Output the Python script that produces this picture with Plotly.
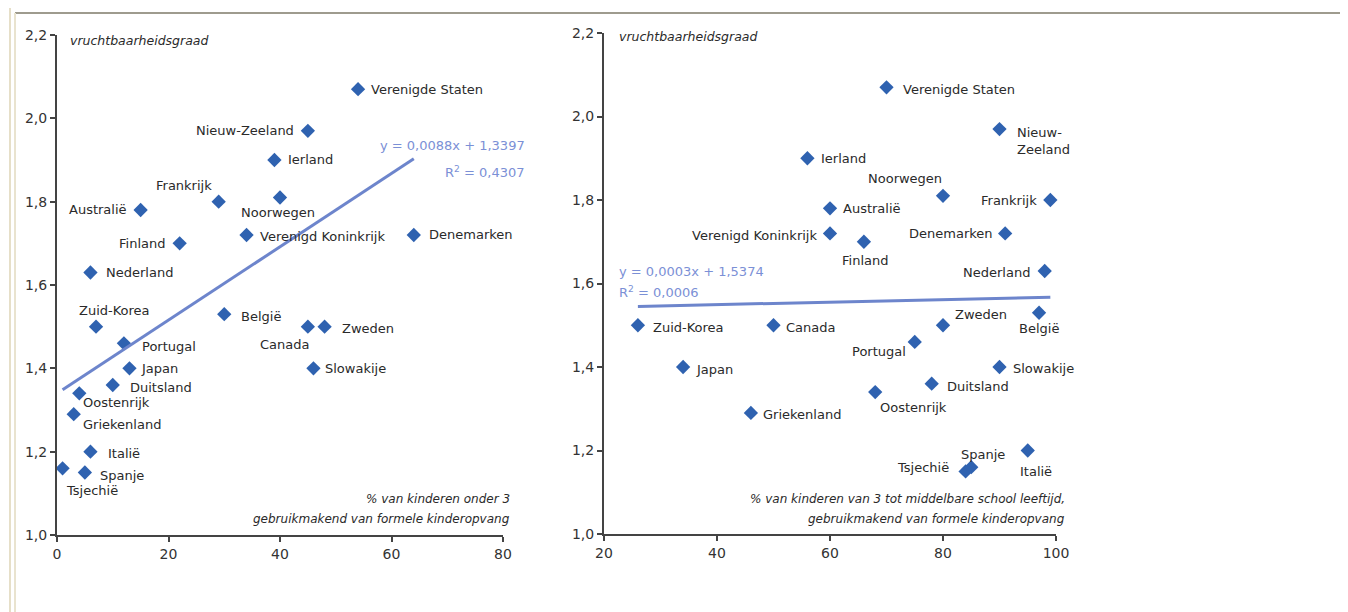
import plotly.graph_objects as go

# ---------------- data ----------------
countries = ["Verenigde Staten", "Nieuw-Zeeland", "Ierland", "Noorwegen", "Frankrijk",
             "Australië", "Denemarken", "Verenigd Koninkrijk", "Finland", "Nederland",
             "Zuid-Korea", "België", "Portugal", "Japan", "Duitsland", "Oostenrijk",
             "Griekenland", "Canada", "Zweden", "Slowakije", "Italië", "Spanje", "Tsjechië"]
fertility = [2.07, 1.97, 1.90, 1.81, 1.80, 1.78, 1.72, 1.72, 1.70, 1.63,
             1.50, 1.53, 1.46, 1.40, 1.36, 1.34, 1.29, 1.50, 1.50, 1.40, 1.20, 1.15, 1.16]
care_under3 = [54, 45, 39, 40, 29, 15, 64, 34, 22, 6,
               7, 30, 12, 13, 10, 4, 3, 45, 48, 46, 6, 5, 1]
care_3_school = [70, 90, 56, 80, 99, 60, 91, 60, 66, 98,
                 26, 97, 75, 34, 78, 68, 46, 50, 80, 90, 95, 84, 85]

trend_left = (0.0088, 1.3397, 0.4307)
trend_right = (0.0003, 1.5374, 0.0006)

y_ticks = [1.0, 1.2, 1.4, 1.6, 1.8, 2.0, 2.2]
x_ticks_left = [0, 20, 40, 60, 80]
x_ticks_right = [20, 40, 60, 80, 100]

y_title = "vruchtbaarheidsgraad"
x_title_left = ["% van kinderen onder 3", "gebruikmakend van formele kinderopvang"]
x_title_right = ["% van kinderen van 3 tot middelbare school leeftijd,",
                 "gebruikmakend van formele kinderopvang"]

# ---------------- styling / label placement ----------------
PAGE_W, PAGE_H = 1348, 612
OFF = 8                       # default body margin of the html page
W, H = PAGE_W - OFF, PAGE_H - OFF
FONT = "DejaVu Sans"
MARKER = "#2f62b0"
TREND = "#6d85cc"
TREND_TXT = "#7b90d6"
AXIS = "#444444"
TXT = "#2a2a2a"


def px(x):
    return (x - OFF) / W


def py(y):
    return 1 - (y - OFF) / H


# (anchor, dx, dy) offsets in screen pixels, dy positive = downwards
place_left = {
    "Verenigde Staten": ("left", 11, 0), "Nieuw-Zeeland": ("right", -12, 0),
    "Ierland": ("left", 12, 0), "Noorwegen": ("center", -2, 15),
    "Frankrijk": ("right", -5, -16), "Australië": ("right", -12, 0),
    "Denemarken": ("left", 13, 0), "Verenigd Koninkrijk": ("left", 11, 2),
    "Finland": ("right", -13, 0), "Nederland": ("left", 14, 0),
    "Zuid-Korea": ("center", 18, -16), "België": ("left", 15, 2),
    "Portugal": ("left", 16, 3), "Japan": ("left", 10, 0),
    "Duitsland": ("left", 15, 2), "Oostenrijk": ("left", 2, 9),
    "Griekenland": ("left", 7, 10), "Canada": ("right", 3, 18),
    "Zweden": ("left", 15, 2), "Slowakije": ("left", 10, 0),
    "Italië": ("left", 16, 2), "Spanje": ("left", 13, 3), "Tsjechië": ("left", 1, 22),
}
place_right = {
    "Verenigde Staten": ("left", 14, 2), "Nieuw-Zeeland": ("left", 15, 12),
    "Ierland": ("left", 12, 0), "Noorwegen": ("right", 1, -17),
    "Frankrijk": ("right", -11, 0), "Australië": ("left", 11, 0),
    "Denemarken": ("right", -10, 0), "Verenigd Koninkrijk": ("right", -11, 2),
    "Finland": ("center", 1, 19), "Nederland": ("right", -13, 2),
    "Zuid-Korea": ("left", 13, 2), "België": ("center", 0, 16),
    "Portugal": ("right", -7, 10), "Japan": ("left", 11, 2),
    "Duitsland": ("left", 13, 3), "Oostenrijk": ("left", 3, 15),
    "Griekenland": ("left", 10, 2), "Canada": ("left", 10, 2),
    "Zweden": ("left", 10, -11), "Slowakije": ("left", 11, 1),
    "Italië": ("center", 8, 21), "Spanje": ("center", 17, -17),
    "Tsjechië": ("right", -20, 0),
}
label_text_right = {"Nieuw-Zeeland": "Nieuw-<br>Zeeland"}

fig = go.Figure()

for xs, xa, ya, trend in [(care_under3, "x", "y", trend_left),
                          (care_3_school, "x2", "y2", trend_right)]:
    fig.add_trace(go.Scatter(
        x=xs, y=fertility, mode="markers", xaxis=xa, yaxis=ya,
        marker=dict(symbol="diamond", size=11, color=MARKER),
        cliponaxis=False, showlegend=False, hoverinfo="text", text=countries))
    slope, icpt, _ = trend
    x0, x1 = min(xs), max(xs)
    fig.add_trace(go.Scatter(
        x=[x0, x1], y=[slope * x0 + icpt, slope * x1 + icpt], mode="lines",
        xaxis=xa, yaxis=ya, line=dict(color=TREND, width=3),
        showlegend=False, hoverinfo="skip"))

annotations = []
lab_font = dict(family=FONT, size=13, color=TXT)
for xs, xa, ya, place, alt in [(care_under3, "x", "y", place_left, {}),
                               (care_3_school, "x2", "y2", place_right, label_text_right)]:
    for name, xv, yv in zip(countries, xs, fertility):
        anchor, dx, dy = place[name]
        annotations.append(dict(
            x=xv, y=yv, xref=xa, yref=ya, text=alt.get(name, name), showarrow=False,
            xanchor=anchor, yanchor="middle", xshift=dx, yshift=-dy,
            align="left", font=lab_font))


def fmt(v, n):
    return f"{v:.{n}f}".replace(".", ",")


# trend equations
for trend, xpos, anchor, ys in [(trend_left, 527, "right", (146, 172)),
                                (trend_right, 617, "left", (271, 292))]:
    slope, icpt, r2 = trend
    annotations.append(dict(x=px(xpos), y=py(ys[0]), xref="paper", yref="paper",
                            text=f"y = {fmt(slope, 4)}x + {fmt(icpt, 4)}", showarrow=False,
                            xanchor=anchor, yanchor="middle",
                            font=dict(family=FONT, size=13, color=TREND_TXT)))
    annotations.append(dict(x=px(xpos), y=py(ys[1]), xref="paper", yref="paper",
                            text=f"R<sup>2</sup> = {fmt(r2, 4)}", showarrow=False,
                            xanchor=anchor, yanchor="middle",
                            font=dict(family=FONT, size=13, color=TREND_TXT)))

# axis titles
it_font = dict(family=FONT, size=12, color=TXT, style="italic")
for xpos, ypos in [(68, 40), (617, 36)]:
    annotations.append(dict(x=px(xpos), y=py(ypos), xref="paper", yref="paper",
                            text=y_title, showarrow=False, xanchor="left", yanchor="middle",
                            font=dict(family=FONT, size=12.5, color=TXT, style="italic")))
for lines, xpos in [(x_title_left, 512), (x_title_right, 1067)]:
    for line, ypos in zip(lines, (499, 519)):
        annotations.append(dict(x=px(xpos), y=py(ypos), xref="paper", yref="paper",
                                text=line, showarrow=False, xanchor="right", yanchor="middle",
                                font=it_font))

# frame
BOTTOM = 640
shapes = [
    dict(type="rect", xref="paper", yref="paper", x0=px(10), x1=px(1346), y0=py(BOTTOM), y1=py(7),
         line=dict(color="#e6dfc8", width=2), fillcolor="rgba(0,0,0,0)", layer="below"),
    dict(type="line", xref="paper", yref="paper", x0=px(15), x1=px(1343), y0=py(13), y1=py(13),
         line=dict(color="#9e9b8e", width=2)),
    dict(type="line", xref="paper", yref="paper", x0=px(15), x1=px(15), y0=py(13), y1=py(BOTTOM),
         line=dict(color="#e9e3cf", width=2)),
    dict(type="line", xref="paper", yref="paper", x0=px(1343), x1=px(1343), y0=py(13), y1=py(BOTTOM),
         line=dict(color="#e9e3cf", width=2)),
]

axis_common = dict(showline=True, linecolor=AXIS, linewidth=2, ticks="outside",
                   ticklen=5, tickwidth=2, tickcolor=AXIS, showgrid=False, zeroline=False,
                   automargin=False,
                   tickfont=dict(family=FONT, size=14, color="#333333"), fixedrange=True)

fig.update_layout(
    width=W, height=H, margin=dict(l=0, r=0, t=0, b=0, autoexpand=False),
    paper_bgcolor="white", plot_bgcolor="rgba(0,0,0,0)",
    separators=",.",
    xaxis=dict(domain=[px(57), px(503)], range=[0, 80], tickvals=x_ticks_left,
               anchor="y", **axis_common),
    yaxis=dict(domain=[py(535), py(35)], range=[1.0, 2.2], tickvals=y_ticks,
               tickformat=".1f", anchor="x", **axis_common),
    xaxis2=dict(domain=[px(604), px(1056)], range=[20, 100], tickvals=x_ticks_right,
                anchor="y2", **axis_common),
    yaxis2=dict(domain=[py(534), py(33)], range=[1.0, 2.2], tickvals=y_ticks,
                tickformat=".1f", anchor="x2", **axis_common),
    annotations=annotations, shapes=shapes, showlegend=False,
)

fig.write_html("out.html", config={"displayModeBar": False})
